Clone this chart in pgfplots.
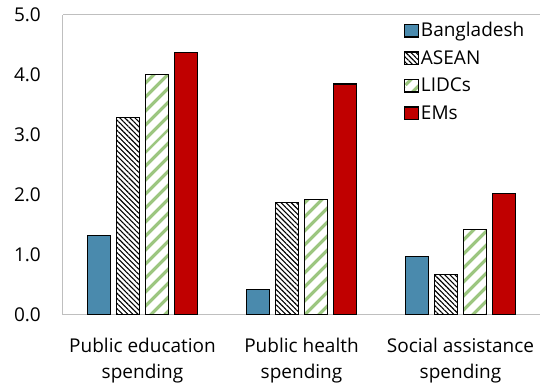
\documentclass[border=0pt]{standalone}
\usepackage{pgfplots}
\pgfplotsset{compat=1.18}
\usepackage{fontspec}
\setmainfont{Open Sans}
\usetikzlibrary{patterns.meta}

\definecolor{bdblue}{HTML}{4A8AAD}
\definecolor{emred}{HTML}{C00000}
\definecolor{lidcgreen}{HTML}{9CC680}
\definecolor{axisgray}{HTML}{BFBFBF}

\begin{document}
\begin{tikzpicture}
\begin{axis}[
  scale only axis,
  width=477pt, height=300pt,
  ymin=0, ymax=5,
  xmin=-0.5, xmax=2.5,
  ytick={0,1,2,3,4,5},
  xtick={0,1,2},
  xticklabels={{Public education\\spending},{Public health\\spending},{Social assistance\\spending}},
  xticklabel style={align=center, font=\fontsize{19}{26}\selectfont, inner sep=0pt, anchor=north, yshift=-23pt},
  yticklabel style={font=\fontsize{19}{22}\selectfont, inner sep=0pt, anchor=east, xshift=-22pt},
  /pgf/number format/.cd, fixed, fixed zerofill, precision=1, assume math mode=true,
  /pgfplots/.cd,
  major tick length=0pt,
  axis x line*=bottom,
  axis y line*=left,
  axis line style={axisgray, line width=1pt, -},
  ybar=5.5pt,
  bar width=23.5pt,
  legend style={draw=none, fill=none, inner sep=0pt, at={(rel axis cs:0.715,0.981)}, anchor=north west,
    font=\fontsize{19}{22}\selectfont, row sep=5.4pt,
    nodes={inner sep=1.5pt, text height=14.5pt, text depth=4.6pt}},
  legend cell align=left,
  legend image code/.code={\draw[#1, line width=1.2pt] (0pt,-5pt) rectangle (14pt,7.5pt);},
]
\addplot[draw=black, line width=1.2pt, fill=bdblue]
  coordinates {(0,1.33) (1,0.42) (2,0.98)};
\addplot[draw=black, line width=1.2pt, fill=white,
  pattern={Lines[angle=-45, distance=3.6pt, line width=1.1pt]}, pattern color=black]
  coordinates {(0,3.29) (1,1.87) (2,0.67)};
\addplot[draw=black, line width=1.2pt, fill=white,
  pattern={Lines[angle=45, distance=10.5pt, line width=3.6pt]}, pattern color=lidcgreen]
  coordinates {(0,4.01) (1,1.92) (2,1.42)};
\addplot[draw=black, line width=1.2pt, fill=emred]
  coordinates {(0,4.38) (1,3.85) (2,2.02)};
\legend{Bangladesh, ASEAN, LIDCs, EMs}
\draw[axisgray, line width=1pt] (rel axis cs:0,1) -- (rel axis cs:1,1);
\end{axis}
\pgfresetboundingbox
\path[use as bounding box] ([xshift=-63pt,yshift=-70pt]current axis.south west)
  rectangle ([xshift=1pt,yshift=15pt]current axis.north east);
\end{tikzpicture}
\end{document}
